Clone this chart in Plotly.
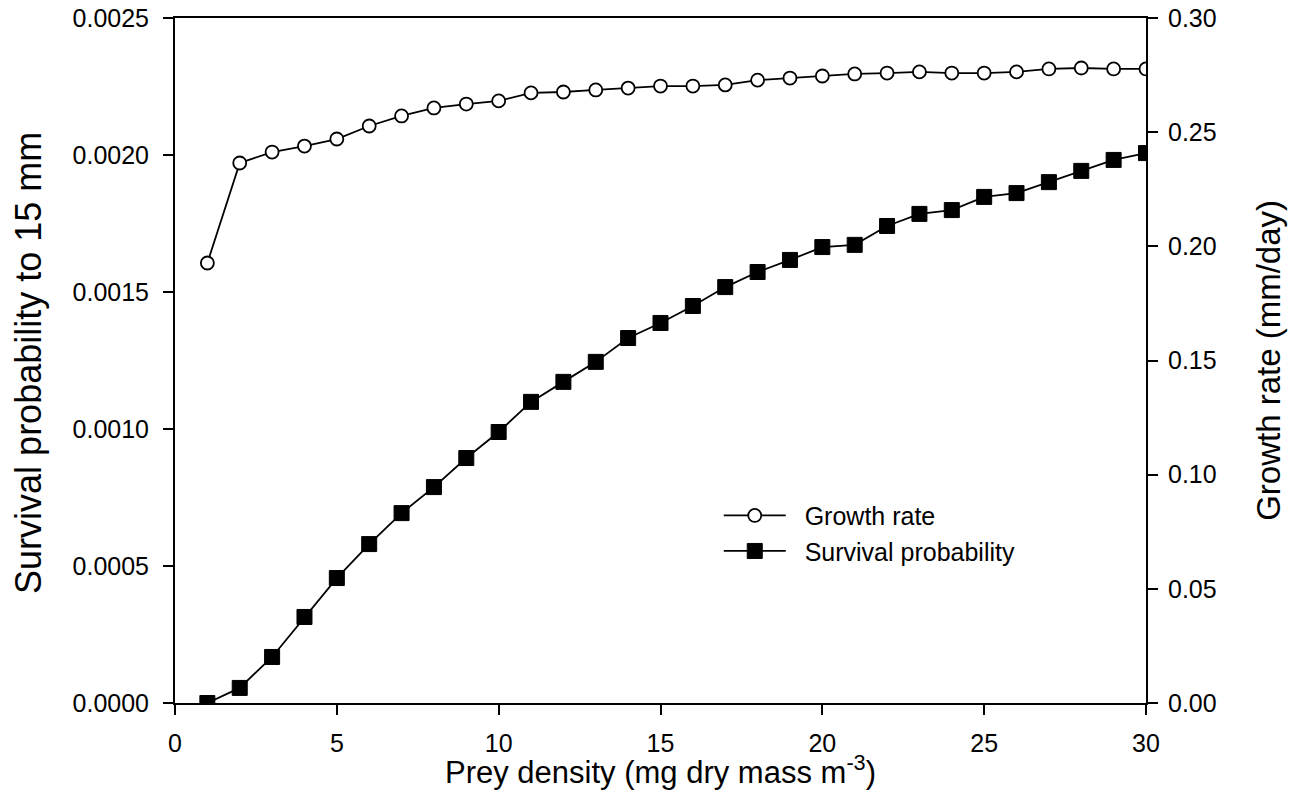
import plotly.graph_objects as go

prey_density = list(range(1, 31))
survival_probability = [0.0000, 0.000055, 0.000168, 0.000314, 0.000456, 0.000580, 0.000693, 0.000788,
                        0.000894, 0.000989, 0.001099, 0.001172, 0.001245, 0.001332, 0.001387, 0.001449,
                        0.001518, 0.001573, 0.001617, 0.001664, 0.001672, 0.001741, 0.001785, 0.001799,
                        0.001847, 0.001861, 0.001901, 0.001942, 0.001982, 0.002007]
growth_rate = [0.1927, 0.2365, 0.2413, 0.2439, 0.2470, 0.2527, 0.2571, 0.2606, 0.2623, 0.2637,
               0.2672, 0.2676, 0.2685, 0.2693, 0.2702, 0.2702, 0.2707, 0.2728, 0.2737, 0.2746,
               0.2755, 0.2759, 0.2764, 0.2759, 0.2759, 0.2764, 0.2777, 0.2781, 0.2777, 0.2777]

x_title = "Prey density (mg dry mass m<sup>-3</sup>)"
y_title = "Survival probability to 15 mm"
y2_title = "Growth rate (mm/day)"
legend_names = ["\u00a0\u00a0Growth rate", "\u00a0\u00a0Survival probability"]

font = "Liberation Sans, Arial, sans-serif"

fig = go.Figure()
fig.add_trace(go.Scatter(
    x=prey_density, y=growth_rate, name=legend_names[0], yaxis="y2",
    mode="lines+markers",
    line=dict(color="black", width=1.8),
    marker=dict(symbol="circle", size=13, color="white", line=dict(color="black", width=1.8)),
))
fig.add_trace(go.Scatter(
    x=prey_density, y=survival_probability, name=legend_names[1],
    mode="lines+markers",
    line=dict(color="black", width=1.8),
    marker=dict(symbol="square", size=15, color="black", line=dict(color="black", width=1)),
))

axis_common = dict(showline=True, linecolor="black", linewidth=2,
                   ticks="outside", ticklen=10, tickwidth=2, tickcolor="black",
                   showgrid=False, zeroline=False, automargin=False,
                   ticklabeloverflow="allow",
                   tickfont=dict(size=25))

fig.update_layout(
    width=1289, height=807,
    margin=dict(l=175, r=143, t=18, b=104, autoexpand=False),
    paper_bgcolor="white", plot_bgcolor="white",
    font=dict(family=font, size=25, color="black"),
    showlegend=True,
    legend=dict(x=0.56, y=0.307, xanchor="left", yanchor="top",
                bgcolor="rgba(0,0,0,0)", font=dict(size=25), itemwidth=62,
                tracegroupgap=0),
    xaxis=dict(range=[0, 30], dtick=5, tick0=0, mirror=True, ticklabelstandoff=7, **axis_common),
    yaxis=dict(range=[0, 0.0025000001], tickvals=[0, 0.0005, 0.001, 0.0015, 0.002, 0.0025],
               tickformat=".4f", ticklabelstandoff=9, **axis_common),
    yaxis2=dict(range=[0, 0.3000001], tickvals=[0, 0.05, 0.1, 0.15, 0.2, 0.25, 0.3],
                tickformat=".2f", overlaying="y", side="right",
                ticklabelstandoff=5, **axis_common),
    annotations=[
        dict(text=x_title, xref="paper", yref="paper", x=0.5, y=-0.098, xanchor="center", yanchor="middle",
             showarrow=False, font=dict(size=31)),
        dict(text=y_title, xref="paper", yref="paper", x=-0.151, y=0.497, xanchor="center", yanchor="middle",
             textangle=-90, showarrow=False, font=dict(size=36)),
        dict(text=y2_title, xref="paper", yref="paper", x=1.126, y=0.5, xanchor="center", yanchor="middle",
             textangle=-90, showarrow=False, font=dict(size=33)),
    ],
)

fig.write_html("out.html", config={"displayModeBar": False},
               post_script="document.body.style.margin='0';")
